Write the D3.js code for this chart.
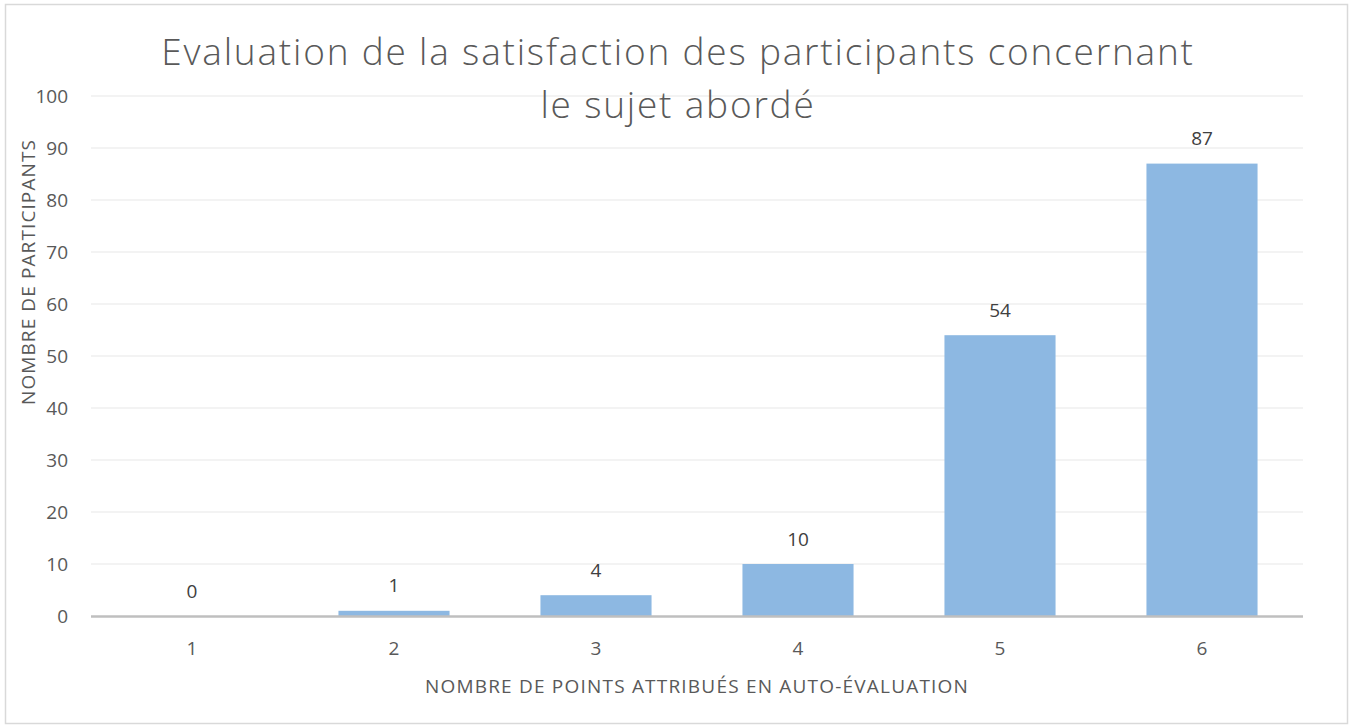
<!DOCTYPE html>
<html>
<head>
<meta charset="utf-8">
<script src="https://cdn.jsdelivr.net/npm/d3@7"></script>
<style>
  body { margin: 0; background: #fff; }
  svg text { font-family: "Open Sans", "Noto Sans", sans-serif; }
</style>
</head>
<body>
<div id="chart"></div>
<script>
// chart data
var categories = ["1", "2", "3", "4", "5", "6"];
var values = [0, 1, 4, 10, 54, 87];
var yTicks = [0, 10, 20, 30, 40, 50, 60, 70, 80, 90, 100];
var titleLines = ["Evaluation de la satisfaction des participants concernant", "le sujet abordé"];

var W = 1352, H = 726;
var margin = {left: 91, right: 49, top: 96, bottom: 110};

var svg = d3.select("#chart")
  .append("svg")
  .attr("width", W)
  .attr("height", H);

// outer frame
svg.append("rect")
  .attr("x", 5.5).attr("y", 4.5)
  .attr("width", 1342).attr("height", 719)
  .style("fill", "#fff")
  .style("stroke", "#d9d9d9")
  .style("stroke-width", 1.5);

var x = d3.scaleBand()
  .domain(categories)
  .range([margin.left, W - margin.right])
  .paddingInner(0.45)
  .paddingOuter(0.225);

var y = d3.scaleLinear()
  .domain([0, 100])
  .range([616, 96]);

// gridlines
svg.append("g")
  .selectAll("line")
  .data(yTicks.filter(function(d) { return d > 0; }))
  .enter().append("line")
  .attr("x1", margin.left).attr("x2", W - margin.right)
  .attr("y1", function(d) { return y(d); })
  .attr("y2", function(d) { return y(d); })
  .style("stroke", "#efefef")
  .style("stroke-width", 1.5);

// y tick labels
svg.append("g")
  .selectAll("text")
  .data(yTicks)
  .enter().append("text")
  .attr("x", 68)
  .attr("y", function(d) { return y(d); })
  .attr("dy", "0.35em")
  .attr("text-anchor", "end")
  .style("font-size", "19px")
  .style("fill", "#595959")
  .text(function(d) { return d; });

// bars
svg.append("g")
  .selectAll("rect")
  .data(values)
  .enter().append("rect")
  .attr("x", function(d, i) { return x(categories[i]); })
  .attr("y", function(d) { return y(d); })
  .attr("width", x.bandwidth())
  .attr("height", function(d) { return y(0) - y(d); })
  .style("fill", "#8db8e2");

// baseline
svg.append("line")
  .attr("x1", margin.left).attr("x2", W - margin.right)
  .attr("y1", y(0) + 0.5).attr("y2", y(0) + 0.5)
  .style("stroke", "#bfbfbf")
  .style("stroke-width", 2.5);

// value labels
svg.append("g")
  .selectAll("text")
  .data(values)
  .enter().append("text")
  .attr("x", function(d, i) { return x(categories[i]) + x.bandwidth() / 2; })
  .attr("y", function(d) { return y(d) - 25; })
  .attr("dy", "0.35em")
  .attr("text-anchor", "middle")
  .style("font-size", "19px")
  .style("fill", "#404040")
  .text(function(d) { return d; });

// x tick labels
svg.append("g")
  .selectAll("text")
  .data(categories)
  .enter().append("text")
  .attr("x", function(d) { return x(d) + x.bandwidth() / 2; })
  .attr("y", 648)
  .attr("dy", "0.35em")
  .attr("text-anchor", "middle")
  .style("font-size", "19px")
  .style("fill", "#595959")
  .text(function(d) { return d; });

// axis titles
svg.append("text")
  .attr("x", 697).attr("y", 686)
  .attr("dy", "0.35em")
  .attr("text-anchor", "middle")
  .style("font-size", "19px")
  .style("letter-spacing", "1.2px")
  .style("fill", "#595959")
  .text("NOMBRE DE POINTS ATTRIBUÉS EN AUTO-ÉVALUATION");

svg.append("text")
  .attr("transform", "translate(28,272) rotate(-90)")
  .attr("dy", "0.35em")
  .attr("text-anchor", "middle")
  .style("font-size", "19px")
  .style("letter-spacing", "1.1px")
  .style("fill", "#595959")
  .text("NOMBRE DE PARTICIPANTS");

// title
svg.append("g")
  .selectAll("text")
  .data(titleLines)
  .enter().append("text")
  .attr("x", 678)
  .attr("y", function(d, i) { return 52 + i * 53; })
  .attr("dy", "0.35em")
  .attr("text-anchor", "middle")
  .style("font-size", "37px")
  .style("font-weight", 300)
  .style("letter-spacing", "1.8px")
  .style("fill", "#595959")
  .text(function(d) { return d; });
</script>
</body>
</html>
